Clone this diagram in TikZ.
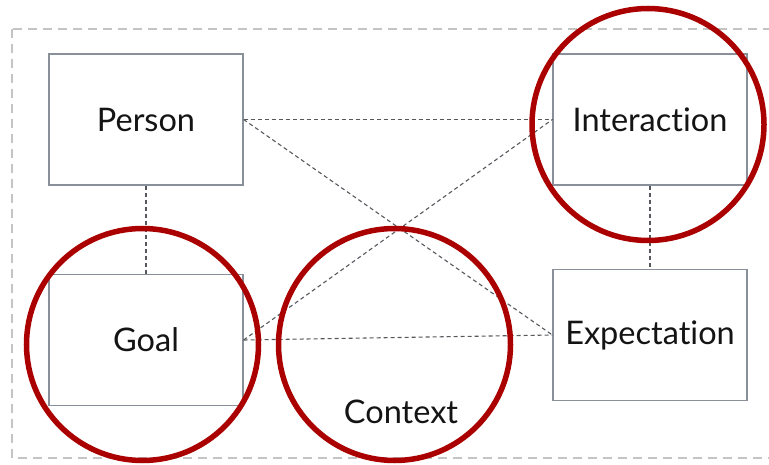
\documentclass[tikz,border=0pt]{standalone}
\usepackage{fontspec}
\setmainfont{Lato}[Ligatures=NoCommon]
\begin{document}
\begin{tikzpicture}[x=1pt,y=-1pt,
  label/.style={font=\fontsize{32.5}{38}\selectfont, text=black!92},
  entity/.style={label, draw=boxgray, line width=1.2pt, fill=white, minimum width=194pt, minimum height=131pt, inner sep=0pt},
  link/.style={draw=linkgray, line width=1.1pt, dash pattern=on 4pt off 3pt},
  focus/.style={circle, draw=focusred, line width=5.5pt, minimum size=232pt, inner sep=0pt}]
\definecolor{boxgray}{HTML}{8A9099}
\definecolor{linkgray}{HTML}{55595E}
\definecolor{framegray}{HTML}{C4C4C4}
\definecolor{focusred}{HTML}{AA0000}
\useasboundingbox (0,0) rectangle (769,465);
\clip (0,0) rectangle (769,465);
% outer frame
\draw[framegray, line width=2pt, dash pattern=on 9pt off 6pt] (11.5,29) rectangle (780,458);
% entities
\node[entity] (person) at (146,119.5) {Person};
\node[entity] (interaction) at (650,119.5) {Interaction};
\node[entity] (expectation) at (650,335) {Expectation};
\node[entity] (goal) at (146,340) {Goal};
% links
\draw[link] (person.east) -- (interaction.west);
\draw[link] (person.east) -- (expectation.west);
\draw[link] (goal.east) -- (interaction.west);
\draw[link] (goal.east) -- (expectation.west);
\draw[link] (person.south) -- (goal.north);
\draw[link] (interaction.south) -- (expectation.north);
% highlighted areas
\node[focus] (cInteraction) at (648,124.5) {};
\node[focus] (cGoal) at (142.5,344.5) {};
\node[focus] (cContext) at (394.5,344.5) {};
\node[label] (context) at (401,412) {Context};
\end{tikzpicture}
\end{document}
